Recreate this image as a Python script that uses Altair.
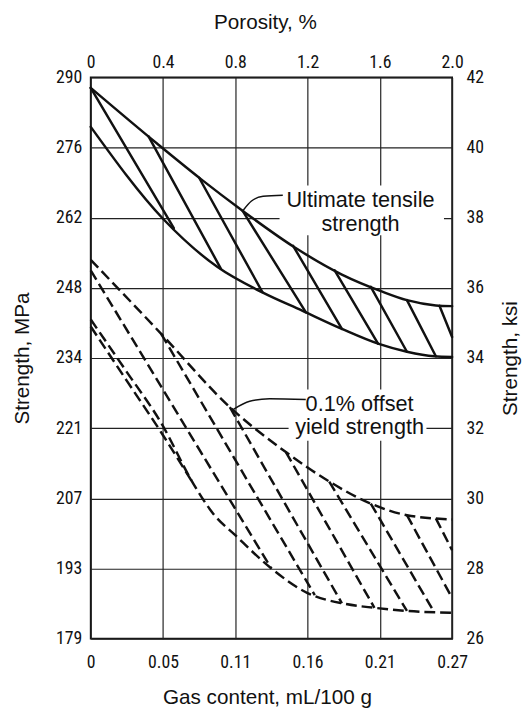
import altair as alt
import pandas as pd

# ---------------- axis ticks / labels ----------------
POROSITY_TICKS = [0, 0.4, 0.8, 1.2, 1.6, 2.0]
POROSITY_LABELS = ["0", "0.4", "0.8", "1.2", "1.6", "2.0"]
GAS_LABELS = ["0", "0.05", "0.11", "0.16", "0.21", "0.27"]
KSI_TICKS = [26, 28, 30, 32, 34, 36, 38, 40, 42]
KSI_LABELS = ["26", "28", "30", "32", "34", "36", "38", "40", "42"]
MPA_LABELS = ["179", "193", "207", "221", "234", "248", "262", "276", "290"]

# ---------------- ultimate tensile strength band (porosity %, ksi) ----------------
UTS_UPPER_POR = [0, 0.37, 0.61, 0.84, 1.13, 1.39, 1.61, 1.75, 1.91, 2.0]
UTS_UPPER_KSI = [41.7, 40.1, 39.1, 38.2, 37.15, 36.38, 35.9, 35.65, 35.5, 35.48]
UTS_LOWER_POR = [0, 0.4, 0.7, 0.95, 1.17, 1.39, 1.59, 1.75, 1.9, 2.0]
UTS_LOWER_KSI = [40.59, 37.97, 36.6, 35.87, 35.35, 34.83, 34.41, 34.18, 34.05, 34.03]
UTS_HATCH_POR0 = [0, 0.32, 0.6, 0.84, 1.12, 1.35, 1.55, 1.75, 1.93]
UTS_HATCH_KSI0 = [41.7, 40.32, 39.14, 38.2, 37.2, 36.5, 36.03, 35.65, 35.49]
UTS_HATCH_POR1 = [0.46, 0.72, 0.95, 1.19, 1.39, 1.59, 1.75, 1.91, 2.0]
UTS_HATCH_KSI1 = [37.7, 36.55, 35.88, 35.31, 34.83, 34.41, 34.18, 34.05, 34.6]

# ---------------- 0.1% offset yield strength band ----------------
YS_UPPER_POR = [0, 0.39, 0.77, 1.08, 1.32, 1.55, 1.75, 2.0]
YS_UPPER_KSI = [36.8, 34.69, 32.6, 31.32, 30.48, 29.85, 29.52, 29.4]
YS_LOWER_POR = [0, 0.2, 0.39, 0.57, 0.68, 0.8, 1.0, 1.2, 1.4, 1.57, 1.75, 2.0]
YS_LOWER_KSI = [35.1, 33.6, 32.15, 30.4, 29.55, 28.95, 28.0, 27.3, 27.0, 26.88, 26.79, 26.74]
YS_TWIN_POR = [0, 0.2, 0.4, 0.57]
YS_TWIN_KSI = [34.9, 33.35, 31.8, 30.4]
YS_HATCH_POR0 = [0, 0.39, 0.77, 1.08, 1.32, 1.55, 1.75, 1.91]
YS_HATCH_KSI0 = [36.5, 34.69, 32.6, 31.32, 30.48, 29.85, 29.52, 29.43]
YS_HATCH_POR1 = [1.0, 1.24, 1.39, 1.57, 1.75, 1.9, 2.0, 2.0]
YS_HATCH_KSI1 = [28.0, 27.24, 27.01, 26.88, 26.79, 26.76, 27.16, 28.52]

# ---------------- annotations ----------------
UTS_LEADER_POR = [0.845, 0.888, 0.954, 1.063]
UTS_LEADER_KSI = [38.22, 38.47, 38.61, 38.64]
YS_LEADER_POR = [0.79, 0.88, 0.99, 1.19]
YS_LEADER_KSI = [32.54, 32.77, 32.84, 32.82]
LABEL_TEXT = ["Ultimate tensile", "strength", "0.1% offset", "yield strength"]
LABEL_POR = [1.493, 1.493, 1.488, 1.488]
LABEL_KSI = [38.49, 37.82, 32.68, 32.03]
BOX_POR0 = [1.045, 1.095]
BOX_POR1 = [1.955, 1.858]
BOX_KSI0 = [37.5, 31.64]
BOX_KSI1 = [38.92, 33.1]

# ---------------- build tables ----------------
rows = []


def add_line(name, kind, xs, ys):
    for i, (x, y) in enumerate(zip(xs, ys)):
        rows.append({"line": name, "kind": kind, "order": i, "por": x, "ksi": y})


add_line("uts_upper", "solid", UTS_UPPER_POR, UTS_UPPER_KSI)
add_line("uts_lower", "solid", UTS_LOWER_POR, UTS_LOWER_KSI)
for k in range(len(UTS_HATCH_POR0)):
    add_line(f"uts_h{k}", "solid", [UTS_HATCH_POR0[k], UTS_HATCH_POR1[k]],
             [UTS_HATCH_KSI0[k], UTS_HATCH_KSI1[k]])
add_line("ys_upper", "dashed", YS_UPPER_POR, YS_UPPER_KSI)
add_line("ys_lower", "dashed", YS_LOWER_POR, YS_LOWER_KSI)
add_line("ys_twin", "dashed", YS_TWIN_POR, YS_TWIN_KSI)
for k in range(len(YS_HATCH_POR0)):
    add_line(f"ys_h{k}", "dashed", [YS_HATCH_POR0[k], YS_HATCH_POR1[k]],
             [YS_HATCH_KSI0[k], YS_HATCH_KSI1[k]])
add_line("uts_leader", "leader", UTS_LEADER_POR, UTS_LEADER_KSI)
add_line("ys_leader", "leader", YS_LEADER_POR, YS_LEADER_KSI)
lines = pd.DataFrame(rows)

labels = pd.DataFrame({"text": LABEL_TEXT, "por": LABEL_POR, "ksi": LABEL_KSI})
boxes = pd.DataFrame({"x0": BOX_POR0, "x1": BOX_POR1, "y0": BOX_KSI0, "y1": BOX_KSI1})


def label_expr(ticks, labs, mult):
    expr = "''"
    for t, l in reversed(list(zip(ticks, labs))):
        expr = f"(round(datum.value*{mult})=={round(t * mult)} ? '{l}' : {expr})"
    return expr


TICK_FONT = "Liberation Sans Narrow, Arial Narrow, Roboto Condensed, DejaVu Sans Condensed, sans-serif"
TITLE_FONT = "Liberation Sans, Arial, Helvetica, sans-serif"
INK = "#111111"

xscale = alt.Scale(domain=[0, 2.0], nice=False, zero=False)
yscale = alt.Scale(domain=[26, 42], nice=False, zero=False)

common_axis = dict(
    ticks=False, domain=False, labelFont=TICK_FONT, labelFontSize=18, labelColor=INK,
    titleFont=TITLE_FONT, titleFontSize=21, titleFontWeight="normal", titleColor=INK,
)

axis_bottom = alt.Axis(
    orient="bottom", values=POROSITY_TICKS, labelExpr=label_expr(POROSITY_TICKS, GAS_LABELS, 10),
    labelPadding=15, title="Gas content, mL/100 g", titleX=179, titleY=66,
    titleAlign="center", titleBaseline="alphabetic", grid=True, gridColor="#222222",
    gridWidth=1.2, labelFlush=False, labelOverlap=False, **common_axis)
axis_top = alt.Axis(
    orient="top", values=POROSITY_TICKS, labelExpr=label_expr(POROSITY_TICKS, POROSITY_LABELS, 10),
    labelPadding=6, title="Porosity, %", titleX=177, titleY=-50,
    titleAlign="center", titleBaseline="alphabetic", grid=False, labelFlush=False,
    labelOverlap=False, **common_axis)
axis_left = alt.Axis(
    orient="left", values=KSI_TICKS, labelExpr=label_expr(KSI_TICKS, MPA_LABELS, 1),
    labelPadding=9, title="Strength, MPa", titleX=-63, titleY=285, titleAngle=270,
    titleAlign="center", titleBaseline="alphabetic", grid=True, gridColor="#222222",
    gridWidth=1.2, labelFlush=False, labelOverlap=False, labelBaseline="middle", **common_axis)
axis_right = alt.Axis(
    orient="right", values=KSI_TICKS, labelExpr=label_expr(KSI_TICKS, KSI_LABELS, 1),
    labelPadding=14, title="Strength, ksi", titleX=65, titleY=285, titleAngle=270,
    titleAlign="center", titleBaseline="alphabetic", grid=False, labelFlush=False,
    labelOverlap=False, labelBaseline="middle", **common_axis)

# white knock-out boxes behind the labels (carry bottom/left axes)
box_layer = alt.Chart(boxes).mark_rect(color="white").encode(
    x=alt.X("x0:Q", scale=xscale, axis=axis_bottom),
    x2="x1:Q",
    y=alt.Y("y0:Q", scale=yscale, axis=axis_left),
    y2="y1:Q",
)

solid_layer = alt.Chart(lines).transform_filter(alt.datum.kind == "solid").mark_line(
    color=INK, strokeWidth=2.5, interpolate="monotone", strokeCap="round"
).encode(
    x=alt.X("por:Q", scale=xscale, axis=None),
    y=alt.Y("ksi:Q", scale=yscale, axis=None),
    detail="line:N",
    order="order:Q",
)

dashed_layer = alt.Chart(lines).transform_filter(alt.datum.kind == "dashed").mark_line(
    color=INK, strokeWidth=2.5, interpolate="monotone", strokeDash=[11, 5]
).encode(
    x=alt.X("por:Q", scale=xscale, axis=axis_top),
    y=alt.Y("ksi:Q", scale=yscale, axis=axis_right),
    detail="line:N",
    order="order:Q",
)

leader_layer = alt.Chart(lines).transform_filter(alt.datum.kind == "leader").mark_line(
    color=INK, strokeWidth=1.5, interpolate="monotone"
).encode(
    x=alt.X("por:Q", scale=xscale, axis=None),
    y=alt.Y("ksi:Q", scale=yscale, axis=None),
    detail="line:N",
    order="order:Q",
)

text_layer = alt.Chart(labels).mark_text(
    font=TITLE_FONT, fontSize=22, color=INK, align="center", baseline="middle"
).encode(
    x=alt.X("por:Q", scale=xscale, axis=None),
    y=alt.Y("ksi:Q", scale=yscale, axis=None),
    text="text:N",
)

chart = alt.layer(box_layer, solid_layer, dashed_layer, leader_layer, text_layer).resolve_axis(
    x="independent", y="independent"
).properties(
    width=367, height=570,
    autosize=alt.AutoSizeParams(type="none"),
    padding={"left": 84, "top": 65, "right": 73, "bottom": 70},
    background="white",
).configure_view(stroke=INK, strokeWidth=1.8)

chart.save("out.html", embed_options={"renderer": "svg", "actions": False})
